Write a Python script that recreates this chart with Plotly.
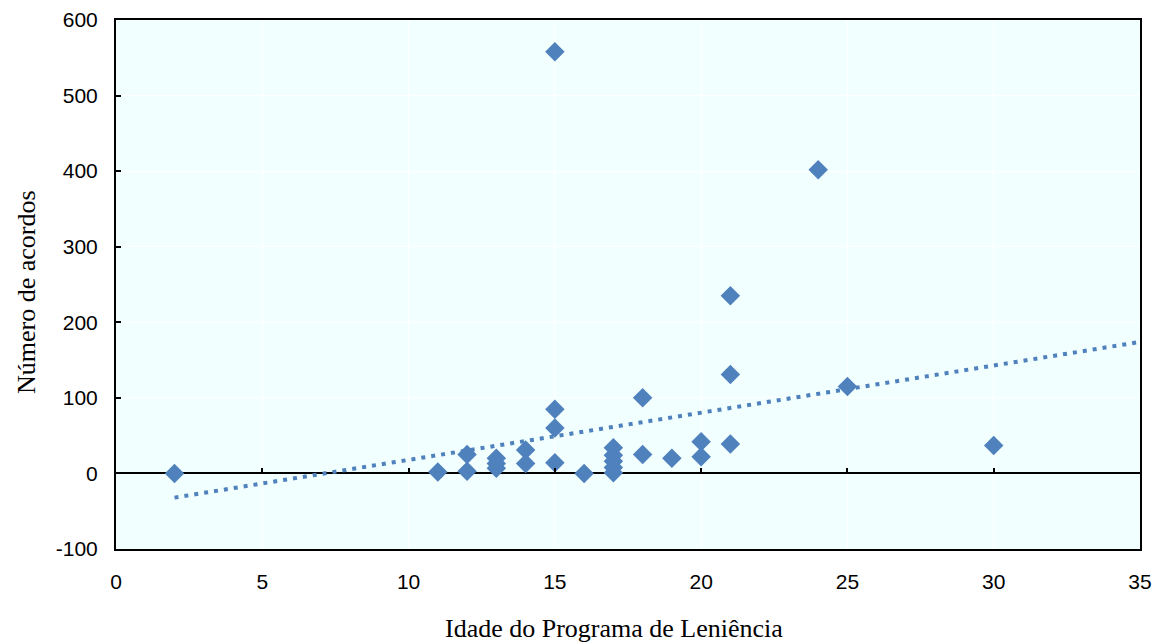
import plotly.graph_objects as go

# Data
idade = [2, 11, 12, 12, 13, 13, 13, 14, 14, 15, 15, 15, 15, 16,
         17, 17, 17, 17, 17, 18, 18, 19, 20, 20, 21, 21, 21, 24, 25, 30]
acordos = [0, 2, 25, 3, 20, 13, 7, 31, 13, 558, 85, 60, 14, 0,
           34, 24, 16, 8, 1, 100, 25, 20, 42, 22, 235, 131, 39, 402, 115, 37]

# Linear trend line endpoints
trend_x = [2, 35]
trend_y = [-32, 174]

x_ticks = [0, 5, 10, 15, 20, 25, 30, 35]
y_ticks = [-100, 0, 100, 200, 300, 400, 500, 600]

x_title = "Idade do Programa de Leniência"
y_title = "Número de acordos"

blue = "#4F81BD"

fig = go.Figure()
fig.add_trace(go.Scatter(
    x=trend_x, y=trend_y, mode="lines",
    line=dict(color=blue, width=4, dash="4px,6px"),
    hoverinfo="skip", showlegend=False,
))
fig.add_trace(go.Scatter(
    x=idade, y=acordos, mode="markers",
    marker=dict(symbol="diamond", size=15, color=blue, line=dict(width=0)),
    showlegend=False,
))
# invisible trace to activate xaxis2 (ticks on the zero line)
fig.add_trace(go.Scatter(x=[0, 35], y=[0, 0], xaxis="x2", mode="markers",
                         marker=dict(opacity=0), hoverinfo="skip", showlegend=False))

title_font = dict(family="Liberation Serif, Times New Roman, serif", size=26, color="black")

fig.update_layout(
    width=1157, height=643,
    margin=dict(l=116, r=17, t=20, b=94, autoexpand=False),
    paper_bgcolor="white",
    plot_bgcolor="#F2FFFF",
    font=dict(family="Liberation Sans, Arial, sans-serif", color="black"),
    xaxis=dict(
        range=[0, 35], tickvals=x_ticks, ticktext=[str(v) for v in x_ticks],
        showgrid=True, gridcolor="white", gridwidth=1,
        showline=True, linecolor="black", linewidth=2, mirror=True,
        ticks="", zeroline=False, automargin=False,
        tickfont=dict(family="Liberation Sans, Arial", size=21),
        ticklabelstandoff=13,
    ),
    xaxis2=dict(
        range=[0, 35], overlaying="x", anchor="free", position=1/7, side="bottom",
        tickvals=x_ticks, ticks="inside", ticklen=5, tickwidth=2, tickcolor="black",
        showticklabels=False, showgrid=False, showline=False, zeroline=False,
    ),
    yaxis=dict(
        range=[-100, 600], tickvals=y_ticks, ticktext=[str(v) for v in y_ticks],
        showgrid=True, gridcolor="white", gridwidth=1,
        showline=True, linecolor="black", linewidth=2, mirror=True,
        ticks="inside", ticklen=5, tickwidth=1.5, tickcolor="black",
        zeroline=True, zerolinecolor="black", zerolinewidth=2,
        tickfont=dict(family="Liberation Sans, Arial", size=21),
        ticklabelstandoff=12, automargin=False,
    ),
    annotations=[
        dict(text=x_title, xref="paper", yref="paper", x=(614 - 116) / 1024, y=-(628 - 549) / 529,
             xanchor="center", yanchor="middle", showarrow=False, font=title_font),
        dict(text=y_title, xref="paper", yref="paper", x=-(116 - 26) / 1024, y=(549 - 292) / 529,
             xanchor="center", yanchor="middle", showarrow=False, textangle=-90, font=title_font),
    ],
)

fig.write_html("out.html")
